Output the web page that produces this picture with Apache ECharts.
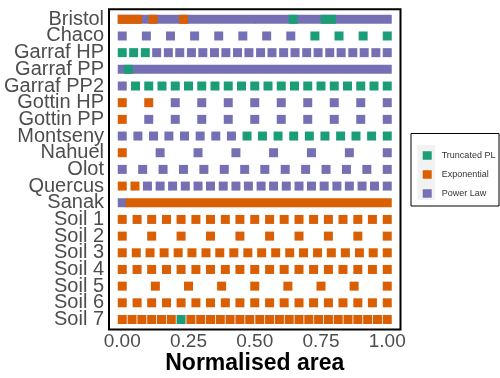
<!DOCTYPE html>
<html><head><meta charset="utf-8">
<script src="https://cdn.jsdelivr.net/npm/echarts@6/dist/echarts.min.js"></script>
<style>html,body{margin:0;padding:0;background:#fff}#c{width:500px;height:378px}</style>
</head><body><div id="c"></div><script>
const categories = ['Bristol','Chaco','Garraf HP','Garraf PP','Garraf PP2','Gottin HP','Gottin PP','Montseny','Nahuel','Olot','Quercus','Sanak','Soil 1','Soil 2','Soil 3','Soil 4','Soil 5','Soil 6','Soil 7'];
const modelNames = {T: 'Truncated PL', E: 'Exponential', P: 'Power Law'};
const modelColors = {T: '#1B9E77', E: '#D95F02', P: '#7570B3'};
const legendOrder = ['Truncated PL', 'Exponential', 'Power Law'];
const xTicks = [0, 0.25, 0.5, 0.75, 1];

// Rows with discrete sampled areas: positions and fitted model per point
const chacoX = [0, 0.091, 0.182, 0.273, 0.364, 0.455, 0.545, 0.636, 0.727, 0.818, 0.909, 1];
const chacoFit = 'PPPPPPPPTTTT';
const garrafHPX = [0, 0.043, 0.087, 0.130, 0.174, 0.217, 0.261, 0.304, 0.348, 0.391, 0.435, 0.478, 0.522, 0.565, 0.609, 0.652, 0.696, 0.739, 0.783, 0.826, 0.870, 0.913, 0.957, 1];
const garrafHPFit = 'TTTPPPPPPPPPPPPPPPPPPPPP';
const garrafPP2X = [0, 0.05, 0.10, 0.15, 0.20, 0.25, 0.30, 0.35, 0.40, 0.45, 0.50, 0.55, 0.60, 0.65, 0.70, 0.75, 0.80, 0.85, 0.90, 0.95, 1];
const garrafPP2Fit = 'PTTTTTTTTTTTTTTTTTTTT';
const gottinHPX = [0, 0.1, 0.2, 0.3, 0.4, 0.5, 0.6, 0.7, 0.8, 0.9, 1];
const gottinHPFit = 'EEPPPPPPPPP';
const gottinPPX = [0, 0.1, 0.2, 0.3, 0.4, 0.5, 0.6, 0.7, 0.8, 0.9, 1];
const gottinPPFit = 'EPPPPPPPPPP';
const montsenyX = [0, 0.059, 0.118, 0.176, 0.235, 0.294, 0.353, 0.412, 0.471, 0.529, 0.588, 0.647, 0.706, 0.765, 0.824, 0.882, 0.941, 1];
const montsenyFit = 'PPPPPPPPTTTTTTTTTT';
const nahuelX = [0, 0.143, 0.286, 0.429, 0.571, 0.714, 0.857, 1];
const nahuelFit = 'EPPPPPPP';
const olotX = [0, 0.077, 0.154, 0.231, 0.308, 0.385, 0.462, 0.538, 0.615, 0.692, 0.769, 0.846, 0.923, 1];
const olotFit = 'PPPPPPPPPPPPPP';
const quercusX = [0, 0.048, 0.095, 0.143, 0.190, 0.238, 0.286, 0.333, 0.381, 0.429, 0.476, 0.524, 0.571, 0.619, 0.667, 0.714, 0.762, 0.810, 0.857, 0.905, 0.952, 1];
const quercusFit = 'EEPPPPPPPPPPPPPPPPPPPP';
const soil1X = [0, 0.056, 0.111, 0.167, 0.222, 0.278, 0.333, 0.389, 0.444, 0.5, 0.556, 0.611, 0.667, 0.722, 0.778, 0.833, 0.889, 0.944, 1];
const soil1Fit = 'EEEEEEEEEEEEEEEEEEE';
const soil2X = [0, 0.111, 0.222, 0.333, 0.444, 0.556, 0.667, 0.778, 0.889, 1];
const soil2Fit = 'EEEEEEEEEE';
const soil3X = [0, 0.053, 0.105, 0.158, 0.211, 0.263, 0.316, 0.368, 0.421, 0.474, 0.526, 0.579, 0.632, 0.684, 0.737, 0.789, 0.842, 0.895, 0.947, 1];
const soil3Fit = 'EEEEEEEEEEEEEEEEEEEE';
const soil4X = [0, 0.056, 0.111, 0.167, 0.222, 0.278, 0.333, 0.389, 0.444, 0.5, 0.556, 0.611, 0.667, 0.722, 0.778, 0.833, 0.889, 0.944, 1];
const soil4Fit = 'EEEEEEEEEEEEEEEEEEE';
const soil5X = [0, 0.125, 0.25, 0.375, 0.5, 0.625, 0.75, 0.875, 1];
const soil5Fit = 'EEEEEEEEE';
const soil6X = [0, 0.056, 0.111, 0.167, 0.222, 0.278, 0.333, 0.389, 0.444, 0.5, 0.556, 0.611, 0.667, 0.722, 0.778, 0.833, 0.889, 0.944, 1];
const soil6Fit = 'EEEEEEEEEEEEEEEEEEE';
const soil7X = [0, 0.037, 0.074, 0.111, 0.148, 0.185, 0.222, 0.259, 0.296, 0.333, 0.370, 0.407, 0.444, 0.481, 0.519, 0.556, 0.593, 0.630, 0.667, 0.704, 0.741, 0.778, 0.815, 0.852, 0.889, 0.926, 0.963, 1];
const soil7Fit = 'EEEEEETEEEEEEEEEEEEEEEEEEEEE';

// Densely sampled rows: runs [from, to, model] (later runs drawn over earlier)
const bristolRuns = [[0, 1, 'P'], [0, 0.057, 'E'], [0.116, 0.116, 'E'], [0.231, 0.231, 'E'], [0.645, 0.645, 'T'], [0.766, 0.789, 'T']];
const garrafPPRuns = [[0, 1, 'P'], [0.023, 0.023, 'T']];
const sanakRuns = [[0, 0, 'P'], [0.030, 1, 'E']];

const seriesData = {P: [], E: [], T: []};
function addPoints(name, xs, fit) {
  const r = categories.indexOf(name);
  xs.forEach((x, i) => seriesData[fit[i]].push([x, x, r]));
}
function addRuns(name, runs) {
  const r = categories.indexOf(name);
  runs.forEach(([a, b, m]) => seriesData[m].push([a, b, r]));
}
addRuns('Bristol', bristolRuns);
addPoints('Chaco', chacoX, chacoFit);
addPoints('Garraf HP', garrafHPX, garrafHPFit);
addRuns('Garraf PP', garrafPPRuns);
addPoints('Garraf PP2', garrafPP2X, garrafPP2Fit);
addPoints('Gottin HP', gottinHPX, gottinHPFit);
addPoints('Gottin PP', gottinPPX, gottinPPFit);
addPoints('Montseny', montsenyX, montsenyFit);
addPoints('Nahuel', nahuelX, nahuelFit);
addPoints('Olot', olotX, olotFit);
addPoints('Quercus', quercusX, quercusFit);
addRuns('Sanak', sanakRuns);
addPoints('Soil 1', soil1X, soil1Fit);
addPoints('Soil 2', soil2X, soil2Fit);
addPoints('Soil 3', soil3X, soil3Fit);
addPoints('Soil 4', soil4X, soil4Fit);
addPoints('Soil 5', soil5X, soil5Fit);
addPoints('Soil 6', soil6X, soil6Fit);
addPoints('Soil 7', soil7X, soil7Fit);

const SQ = 9;
function renderItem(params, api) {
  const a = api.coord([api.value(0), api.value(2)]);
  const b = api.coord([api.value(1), api.value(2)]);
  return {
    type: 'rect',
    shape: {x: a[0] - SQ / 2, y: a[1] - SQ / 2, width: b[0] - a[0] + SQ, height: SQ},
    style: {fill: api.visual('color')}
  };
}

const FONT = '"Liberation Sans", Arial, Helvetica, sans-serif';
const rowTicks = categories.map((c, i) => i);
const evenRows = rowTicks.filter(i => i % 2 === 0);
const oddRows = rowTicks.filter(i => i % 2 === 1);
const yLabelStyle = {formatter: v => categories[Math.round(v)], fontSize: 20, color: '#4D4D4D', fontFamily: FONT, margin: 5, showMinLabel: true, showMaxLabel: true};
function rowAxis(labelRows, showTicks) {
  return {
    type: 'value', min: -0.6, max: 18.6, inverse: true, position: 'left', offset: 0,
    splitLine: {show: false}, axisLine: {show: false},
    axisTick: {show: showTicks, length: 4, lineStyle: {color: '#333'}, customValues: rowTicks},
    axisLabel: Object.assign({customValues: labelRows}, yLabelStyle)
  };
}
const chart = echarts.init(document.getElementById('c'), null, {renderer: 'canvas'});
chart.setOption({
  animation: false,
  backgroundColor: '#fff',
  grid: {left: 109, top: 9.3, width: 291.5, height: 320.2, show: true, borderColor: '#000', borderWidth: 2, backgroundColor: '#fff', outerBoundsMode: 'none', containLabel: false},
  xAxis: {
    type: 'value', min: -0.05, max: 1.05,
    splitLine: {show: false}, axisLine: {show: false},
    axisTick: {show: true, length: 4, lineStyle: {color: '#333'}, customValues: xTicks},
    axisLabel: {customValues: xTicks, formatter: v => v.toFixed(2), fontSize: 19, color: '#4D4D4D', fontFamily: FONT, margin: 3, showMinLabel: true, showMaxLabel: true},
    name: 'Normalised area', nameLocation: 'middle', nameGap: 23, nameMoveOverlap: false,
    nameTextStyle: {fontSize: 23, fontWeight: 'bold', color: '#000', fontFamily: FONT}
  },
  yAxis: [rowAxis(evenRows, true), rowAxis(oddRows, false)],
  legend: {
    data: legendOrder, orient: 'vertical', left: 422.7, top: 151, padding: 0,
    icon: 'rect', itemWidth: 9, itemHeight: 8.5, itemGap: 10, z: 10,
    textStyle: {fontSize: 9, color: '#333', fontFamily: FONT, padding: [0, 0, 0, 5]}
  },
  graphic: [
    {type: 'rect', z: 1, shape: {x: 411, y: 133.5, width: 88, height: 72.5}, style: {fill: '#fff', stroke: '#000', lineWidth: 1}},
    {type: 'rect', z: 2, shape: {x: 417.3, y: 145, width: 17.7, height: 55}, style: {fill: '#F2F2F2'}}
  ],
  series: ['P', 'E', 'T'].map(k => ({
    type: 'custom', name: modelNames[k], renderItem, yAxisIndex: 0,
    data: seriesData[k], encode: {x: [0, 1], y: 2},
    itemStyle: {color: modelColors[k]}
  }))
});
</script></body></html>
